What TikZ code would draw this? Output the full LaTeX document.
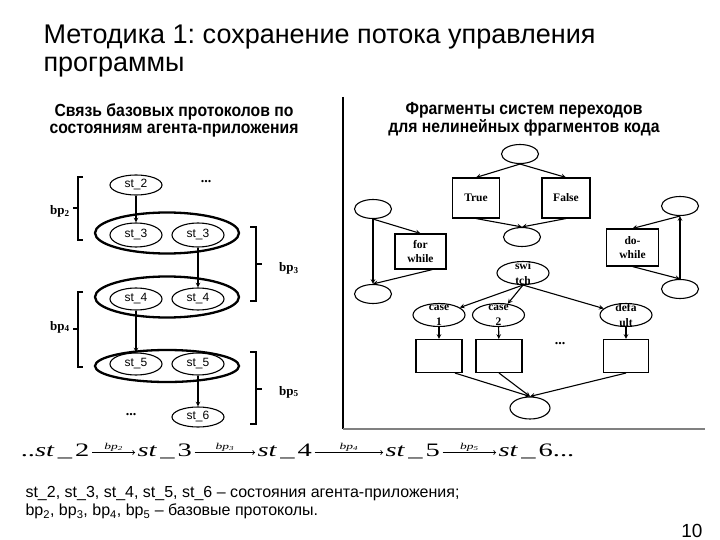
\documentclass[tikz,border=0pt]{standalone}
\usepackage{fontspec}
\setmainfont{Liberation Sans}
\newfontfamily\headfont[FakeStretch=0.9]{Liberation Sans}
\newfontfamily\timesfont{Liberation Serif}
\newfontfamily\eqfont[FakeStretch=1.5]{Liberation Serif}
\usetikzlibrary{shapes.geometric,arrows}
\frenchspacing

\begin{document}
\begin{tikzpicture}[x=1pt,y=-1pt,>=stealth,line width=1.1pt,
    state/.style={draw,ellipse,inner sep=0pt,minimum width=52pt,minimum height=23pt,font=\fontsize{12}{14}\selectfont},
    group/.style={draw,ellipse,line width=2.3pt,inner sep=0pt,minimum width=144pt,minimum height=41pt},
    heading/.style={anchor=base,inner sep=0pt,font=\headfont\bfseries\fontsize{17.5}{18}\selectfont},
    bplabel/.style={inner sep=0pt,font=\timesfont\bfseries\fontsize{13}{15}\selectfont},
    dotsmark/.style={font=\timesfont\bfseries\fontsize{14}{16}\selectfont},
    junction/.style={draw,ellipse,inner sep=0pt,minimum width=37pt,minimum height=19pt},
    block/.style={draw,rectangle,inner sep=0pt,align=center,font=\timesfont\bfseries\fontsize{11.5}{13.3}\selectfont},
    branch/.style={draw,ellipse,inner sep=0pt,minimum width=52pt,minimum height=23pt},
    branchtext/.style={align=center,inner sep=0pt,font=\timesfont\bfseries\fontsize{11.5}{15}\selectfont},
    formula/.style={anchor=base west,inner xsep=2pt,inner ysep=0pt,text height=7pt,text depth=0pt,font=\eqfont\fontsize{19}{22}\selectfont},
    steplabel/.style={inner sep=1pt,font=\eqfont\itshape\fontsize{9}{10}\selectfont},
    legend/.style={anchor=base west,inner sep=0pt,font=\fontsize{16}{18}\selectfont},
  ]
\useasboundingbox (0,0) rectangle (720,540);

% title
\node[anchor=base west,inner sep=0pt,font=\fontsize{27}{30}\selectfont] (title1) at (43,43.3) {Методика 1: сохранение потока управления};
\node[anchor=base west,inner sep=0pt,font=\fontsize{27}{30}\selectfont] (title2) at (43,71.7) {программы};

% headings
\node[heading] (lefthead1) at (174,116.7) {Связь базовых протоколов по};
\node[heading] (lefthead2) at (174,134) {состояниям агента-приложения};
\node[heading] (righthead1) at (524,115) {Фрагменты систем переходов};
\node[heading] (righthead2) at (524,132.7) {для нелинейных фрагментов кода};

% dividers
\draw (343,97) -- (343,429);
\draw[gray,line width=1.5pt] (343,429) -- (705,429);

% states and base protocols
\node[state,minimum height=20pt] (st2) at (136,185) {st\_2};
\node[dotsmark] (dotsa) at (206,182) {...};
\node[group] (g3) at (167,233) {};
\node[state,minimum height=24pt] (st3a) at (136,235) {st\_3};
\node[state,minimum height=24pt] (st3b) at (198,235) {st\_3};
\node[group] (g4) at (167,297) {};
\node[state,minimum height=22pt] (st4a) at (136,299) {st\_4};
\node[state,minimum height=22pt] (st4b) at (198,299) {st\_4};
\node[group,minimum height=32pt] (g5) at (167,366) {};
\node[state,minimum height=22pt] (st5a) at (136,364) {st\_5};
\node[state,minimum height=22pt] (st5b) at (198,364) {st\_5};
\node[state,minimum height=20pt] (st6) at (198,417) {st\_6};
\node[dotsmark] (dotsb) at (131,415) {...};

\draw[->] (st2) -- (st3a);
\draw[->] (st3b) -- (st4b);
\draw[->] (st4a) -- (st5a);
\draw[->] (st5b) -- (st6);

% brackets
\draw (83,177) -- (78,177) -- (78,240) -- (83,240);
\draw (78,208) -- (73,208);
\node[bplabel] (bp2) at (60,211) {bp\textsubscript{2}};
\draw (250,227) -- (256,227) -- (256,301) -- (250,301);
\draw (256,264) -- (262,264);
\node[bplabel] (bp3) at (289,268) {bp\textsubscript{3}};
\draw (83,292) -- (78,292) -- (78,367) -- (83,367);
\draw (78,329) -- (73,329);
\node[bplabel] (bp4) at (60,327) {bp\textsubscript{4}};
\draw (250,352) -- (256,352) -- (256,424) -- (250,424);
\draw (256,389) -- (262,389);
\node[bplabel] (bp5) at (289,392) {bp\textsubscript{5}};

% if
\node[junction] (ifin) at (520,154) {};
\node[block,minimum width=47pt,minimum height=40pt] (true) at (476,198) {True};
\node[block,minimum width=48pt,minimum height=40pt] (false) at (566,198) {False};
\node[junction] (ifout) at (522,237) {};
\draw[->] (ifin.south) -- (true.north);
\draw[->] (ifin.south) -- (false.north);
\draw[->] (true.south) -- (ifout.north);
\draw[->] (false.south) -- (ifout.north);

% for / while
\node[junction] (forin) at (373,209) {};
\node[block,minimum width=51pt,minimum height=35pt] (forbody) at (420.5,251.5) {for\\while};
\node[junction] (forout) at (373,294) {};
\draw[->] (forin.south) -- (forbody.north);
\draw[->] (forin.south) -- (forout.north);
\draw[->] ([xshift=12pt]forbody.south) -- (forout.north);

% do-while
\node[junction] (doin) at (680,206) {};
\node[block,minimum width=52pt,minimum height=37pt] (dobody) at (632.5,247.5) {do-\\while};
\node[junction] (doout) at (680,289) {};
\draw[->] (doin.south) -- (dobody.north);
\draw[->] (dobody.south) -- (doout.north);
\draw[->] (doout.north) -- (doin.south);

% switch
\node[branch,label={[branchtext]center:{swi\\tch}}] (switch) at (523,273) {};
\node[branch,label={[branchtext]center:{case\\1}}] (case1) at (439,315) {};
\node[branch,label={[branchtext]center:{case\\2}}] (case2) at (498.5,315) {};
\node[branch,label={[branchtext]center:{defa\\ult}}] (casedef) at (626,315) {};
\draw[->] (switch.south) -- (case1);
\draw[->] (switch.south) -- (case2);
\draw[->] (switch.south) -- (casedef);
\node[block,minimum width=46pt,minimum height=33pt] (body1) at (439,356) {};
\node[block,minimum width=46pt,minimum height=33pt] (body2) at (499,356) {};
\node[block,minimum width=45pt,minimum height=33pt] (body3) at (626,356) {};
\node[dotsmark] (dotsc) at (560,344) {...};
\draw[->] (case1) -- (body1);
\draw[->] (case2) -- (body2);
\draw[->] (casedef) -- (body3);
\node[junction,minimum width=40pt,minimum height=22pt] (swout) at (530,408) {};
\draw[->] ([xshift=16pt]body1.south) -- (swout.north);
\draw[->] (body2.south) -- (swout.north);
\draw[->] (body3.south) -- (swout.north);

% chain of states
\node[formula,anchor=base east] (f2) at (92,456) {..\textit{st}\,\_\,2};
\node[formula] (f3) at (135,456) {\textit{st}\,\_\,3};
\node[formula] (f4) at (255,456) {\textit{st}\,\_\,4};
\node[formula] (f5) at (383,456) {\textit{st}\,\_\,5};
\node[formula] (f6) at (496,456) {\textit{st}\,\_\,6...};
\draw[->,>=to,line width=0.8pt] (f2) -- node[steplabel,above] {bp\textsubscript{2}} (f3);
\draw[->,>=to,line width=0.8pt] (f3) -- node[steplabel,above] {bp\textsubscript{3}} (f4);
\draw[->,>=to,line width=0.8pt] (f4) -- node[steplabel,above] {bp\textsubscript{4}} (f5);
\draw[->,>=to,line width=0.8pt] (f5) -- node[steplabel,above] {bp\textsubscript{5}} (f6);

% legend
\node[legend] (legend1) at (25,497) {st\_2, st\_3, st\_4, st\_5, st\_6 – состояния агента-приложения;};
\node[legend] (legend2) at (25,515.5) {bp\textsubscript{2}, bp\textsubscript{3}, bp\textsubscript{4}, bp\textsubscript{5} – базовые протоколы.};
\node[anchor=base east,inner sep=0pt,font=\fontsize{19}{22}\selectfont] (pagenum) at (703,537) {10};
\end{tikzpicture}
\end{document}
